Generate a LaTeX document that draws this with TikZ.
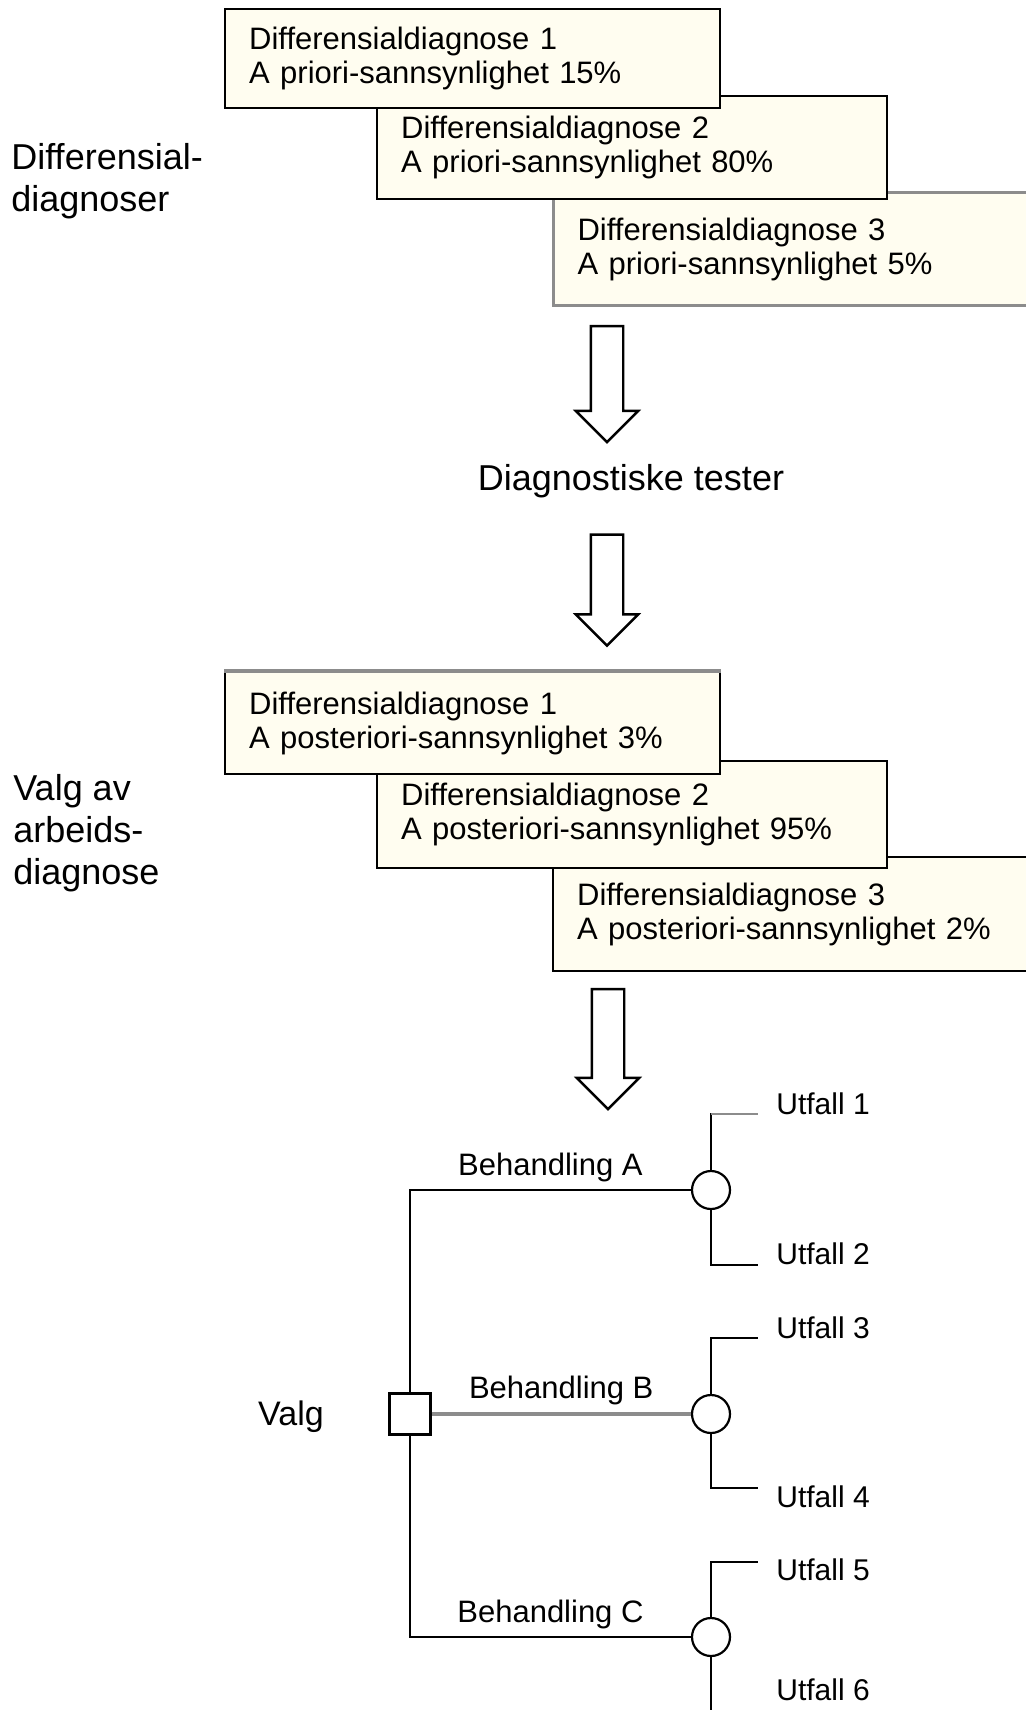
\documentclass[tikz,border=0pt]{standalone}
\usepackage{fontspec}
\setmainfont{Liberation Sans}
\usetikzlibrary{shapes.arrows,positioning}
\definecolor{boxfill}{RGB}{255,253,240}
\definecolor{edgegray}{RGB}{140,140,140}
\tikzset{
	dbox/.style={draw,line width=1.2pt,fill=boxfill,anchor=north west,align=left,
		inner xsep=12pt,font=\fontsize{15.5}{17}\selectfont},
	blockarrow/.style={shape=single arrow,draw,line width=1.2pt,fill=white,rotate=-90,
		inner xsep=0pt,inner ysep=7.5pt,single arrow head extend=7.5pt},
	sidelabel/.style={anchor=west,align=left,inner sep=0pt,font=\fontsize{18}{21}\selectfont},
	tree/.style={line width=1.1pt},
	decsq/.style={draw,line width=1.1pt,fill=white,minimum size=20.5pt,inner sep=0pt},
	chance/.style={circle,draw,line width=1.1pt,fill=white,minimum size=19pt,inner sep=0pt},
	branch/.style={font=\fontsize{15.5}{17}\selectfont},
	outcome/.style={anchor=west,inner sep=0pt,font=\fontsize{15}{17}\selectfont}
}
\begin{document}
\begin{tikzpicture}[x=0.5pt,y=-0.5pt]
	\useasboundingbox (0,0) rectangle (1026,1710);
	\clip (0,0) rectangle (1026,1710);
	\node[dbox,draw=edgegray,line width=1.6pt,text width=226pt,minimum height=56.5pt] (pri3) at (552,191) {Differensialdiagnose 3\\A priori-sannsynlighet 5\%};
	\node[dbox,text width=231pt,minimum height=51.5pt] (pri2) at (376,95) {Differensialdiagnose 2\\A priori-sannsynlighet 80\%};
	\node[dbox,text width=223.5pt,minimum height=49.5pt] (pri1) at (224,8) {Differensialdiagnose 1\\A priori-sannsynlighet 15\%};
	\node[sidelabel] (difflab) at (11,181) {Differensial-\\diagnoser};
	\node[blockarrow,minimum height=58pt] (arr1) at (607,376) {};
	\node[font=\fontsize{18}{21}\selectfont] (tests) at (631,481) {Diagnostiske tester};
	\node[blockarrow,minimum height=55.5pt] (arr2) at (607,582) {};
	\node[dbox,text width=226pt,minimum height=57pt] (post3) at (552,856) {Differensialdiagnose 3\\A posteriori-sannsynlighet 2\%};
	\node[dbox,text width=231pt,minimum height=53.5pt] (post2) at (376,760) {Differensialdiagnose 2\\A posteriori-sannsynlighet 95\%};
	\node[dbox,text width=223.5pt,minimum height=51pt] (post1) at (224,671) {Differensialdiagnose 1\\A posteriori-sannsynlighet 3\%};
	\draw[edgegray,line width=2pt] (post1.north west) -- (post1.north east);
	\node[sidelabel] (worklab) at (13,833) {Valg av\\arbeids-\\diagnose};
	\node[blockarrow,minimum height=60pt] (arr3) at (608,1041) {};
	\node[decsq] (valg) at (410,1414) {};
	\node[font=\fontsize{17}{20}\selectfont] (valglab) at (291,1417) {Valg};
	\node[chance] (cA) at (711,1190) {};
	\node[chance] (cB) at (711,1414) {};
	\node[chance] (cC) at (711,1637) {};
	\draw[tree] (valg.north) |- node[branch,pos=.75,above] (bA) {Behandling A} (cA.west);
	\draw[draw=edgegray,line width=2.4pt] (valg.east) -- node[branch,above,text=black] (bB) {Behandling B} (cB.west);
	\draw[tree] (valg.south) |- node[branch,pos=.75,above] (bC) {Behandling C} (cC.west);
	\coordinate (e1) at (758,1114);
	\coordinate (e2) at (758,1265);
	\coordinate (e3) at (758,1338);
	\coordinate (e4) at (758,1488);
	\coordinate (e5) at (758,1562);
	\coordinate (e6) at (711,1730);
	\draw[tree] (cA.north) |- (e1);
	\draw[draw=edgegray,line width=1.4pt] (cA.north |- e1) -- (e1);
	\draw[tree] (cA.south) |- (e2);
	\draw[tree] (cB.north) |- (e3);
	\draw[tree] (cB.south) |- (e4);
	\draw[tree] (cC.north) |- (e5);
	\draw[tree] (cC.south) -- (e6);
	\node[outcome] (u1) at (776,1104) {Utfall 1};
	\node[outcome] (u2) at (776,1254) {Utfall 2};
	\node[outcome] (u3) at (776,1328) {Utfall 3};
	\node[outcome] (u4) at (776,1497) {Utfall 4};
	\node[outcome] (u5) at (776,1570) {Utfall 5};
	\node[outcome] (u6) at (776,1690) {Utfall 6};
\end{tikzpicture}
\end{document}
